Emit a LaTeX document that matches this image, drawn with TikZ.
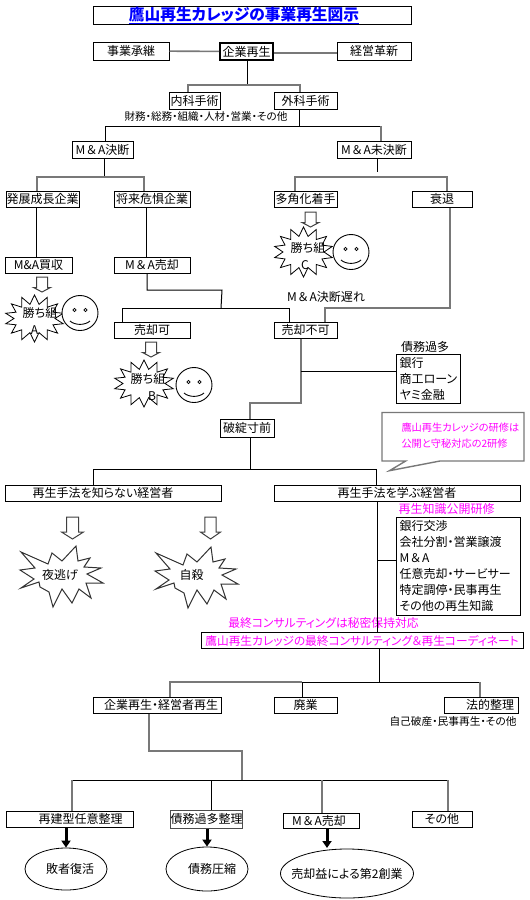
\documentclass[tikz,border=0pt]{standalone}
\usepackage{fontspec}
\setmainfont[RawFeature=+palt]{Noto Sans CJK JP}
\usepackage{tikz}
\usetikzlibrary{arrows.meta,shapes.geometric,shapes.symbols}
\definecolor{linegray}{RGB}{120,120,120}
\definecolor{pinktext}{RGB}{255,0,255}
\definecolor{titleblue}{RGB}{0,0,255}
\newcommand{\fsize}[1]{\fontsize{#1}{#1}\selectfont}
\newcommand{\mnaword}{M\kern1.5pt＆\kern1.5ptA}
\tikzset{
  box/.style={draw, line width=1pt, inner sep=0pt, minimum height=17pt, fill=white},
  listbox/.style={draw, line width=1pt, inner xsep=3pt, inner ysep=0pt, align=left, fill=white},
  oval/.style={draw, ellipse, line width=0.8pt, inner sep=-8pt},
  burst/.style={draw, starburst, starburst points=14, starburst point height=9pt,
    random starburst=0, line width=0.8pt, fill=white, inner sep=0pt},
  bigburst/.style={draw=black!80, line width=1pt, fill=white},
  gline/.style={draw=linegray, line width=1.6pt},
  bline/.style={draw=black, line width=1pt},
  pushline/.style={draw=black, line width=3pt, -{Triangle[length=7pt,width=9pt]}},
  hollowsmall/.pic={
    \draw[draw=black!75, line width=1pt, fill=white] (-5.5,0) -- (5.5,0) -- (5.5,10.5) -- (8.5,10.5) -- (0,15) -- (-8.5,10.5) -- (-5.5,10.5) -- cycle;
  },
  hollowbig/.pic={
    \draw[draw=black!75, line width=1pt, fill=white] (-6,0) -- (6,0) -- (6,15) -- (11,15) -- (0,22) -- (-11,15) -- (-6,15) -- cycle;
  },
  smiley/.pic={
    \draw[line width=0.9pt, fill=white] (0,0) ellipse [x radius=18pt, y radius=17.5pt];
    \draw[line width=0.7pt] (-5.5,-3) circle [radius=1.7pt] (5.5,-3) circle [radius=1.7pt];
    \draw[line width=0.9pt] (-10,8) .. controls (-5,12.5) and (5,12.5) .. (10,8);
  }
}
\begin{document}
\begin{tikzpicture}[x=1pt, y=-1pt, every node/.style={font=\fsize{12}}]
  \useasboundingbox (0,0) rectangle (530,900);
  % top row
  \node[box, minimum width=318pt, font=\fsize{15.7}\bfseries, text=titleblue] (title) at (252,15.5) {\underline{鷹山再生カレッジの事業再生図示}\kern16pt};
  \node[box, minimum width=76pt, minimum height=18pt] (shoukei) at (131,51) {事業承継};
  \node[box, minimum width=53pt, line width=2pt] (saisei) at (246.5,51.5) {企業再生};
  \node[box, minimum width=74pt, minimum height=18pt] (kakushin) at (374,51) {経営革新};
  \draw[gline] (shoukei) -- (saisei);
  \draw[gline] (saisei.east|-0,53) -- (kakushin.west|-0,53);
  % naika geka
  \node[box, minimum width=51pt] (naika) at (194.5,100.5) {内科手術};
  \node[box, minimum width=63pt] (geka) at (305.5,100.5) {外科手術};
  \node[font=\fsize{10.6}] (zaimu) at (206,116) {財務・総務・組織・人材・営業・その他};
  \coordinate (ja) at (247,85);
  \coordinate (jal) at (188,85);
  \coordinate (jar) at (300,85);
  \draw[bline] (saisei.south-|ja) -- (ja);
  \draw[gline] (naika.north-|jal) -- (jal) -- (jar) -- (geka.north-|jar);
  % M&A
  \node[box, minimum width=61pt] (ketsu) at (102.5,149.5) {\mnaword 決断};
  \node[box, minimum width=74pt] (miketsu) at (374,149.5) {\mnaword 未決断};
  \coordinate (jb) at (299,126);
  \coordinate (jbl) at (105,126);
  \coordinate (jbr) at (381,126);
  \draw[bline] (geka.south-|jb) -- (jb);
  \draw[bline] (ketsu.north-|jbl) -- (jbl) -- (jbr);
  \draw[gline] (jbr) -- (miketsu.north-|jbr);
  % companies
  \node[box, minimum width=73pt, minimum height=16pt] (hatten) at (42.5,199) {発展成長企業};
  \node[box, minimum width=76pt, minimum height=16pt] (shorai) at (152,199) {将来危惧企業};
  \node[box, minimum width=63pt, minimum height=16pt] (takaku) at (305.5,199) {多角化着手};
  \node[box, minimum width=60pt, minimum height=16pt] (suitai) at (442,199) {衰退};
  \coordinate (jc) at (104,177);
  \coordinate (jcl) at (37,177);
  \coordinate (jcr) at (144,177);
  \draw[bline] (ketsu.south-|jc) -- (jc);
  \draw[gline] (hatten.north-|jcl) -- (jcl) -- (jcr) -- (shorai.north-|jcr);
  \coordinate (jd) at (377,172);
  \coordinate (jdl) at (295,177);
  \coordinate (jdr) at (447,177);
  \draw[bline] (miketsu.south-|jd) -- (jd);
  \draw[gline] (takaku.north-|jdl) -- (jdl) -- (jdr) -- (suitai.north-|jdr);
  % buy and sell
  \node[box, minimum width=67pt, minimum height=16pt] (kaishu) at (38.5,265) {M\&A買収};
  \node[box, minimum width=76pt, minimum height=16pt] (baikyaku) at (152,265) {\mnaword 売却};
  \coordinate (je) at (36,230);
  \coordinate (jf) at (146,230);
  \draw[bline] (hatten.south-|je) -- (kaishu.north-|je);
  \draw[bline] (shorai.south-|jf) -- (baikyaku.north-|jf);
  % winners
  \pic (arrC) at (310.5,212) {hollowsmall};
  \pic (arrA) at (42,277) {hollowsmall};
  \pic (arrB) at (151,342) {hollowsmall};
  \node[burst, minimum width=59pt, minimum height=50pt] (burstC) at (303.5,252) {};
  \node[burst, minimum width=59pt, minimum height=47pt] (burstA) at (34.5,318.5) {};
  \node[burst, minimum width=60pt, minimum height=47pt] (burstB) at (144,383.5) {};
  \pic (faceC) at (351,252) {smiley};
  \pic (faceA) at (80,313) {smiley};
  \pic (faceB) at (194,385) {smiley};
  \node (winC) at (308,248) {勝ち組};
  \node (letC) at (305,265) {C};
  \node (winA) at (40,313) {勝ち組};
  \node (letA) at (34.5,330) {A};
  \node (winB) at (148,379) {勝ち組};
  \node (letB) at (152,396) {B};
  % sale result
  \node[box, minimum width=76pt, minimum height=16pt] (kaka) at (152,330) {売却可};
  \node[box, minimum width=63pt, minimum height=16pt] (fuka) at (305.5,330) {売却不可};
  \node (okure) at (326,297) {\mnaword 決断遅れ};
  \coordinate (jg) at (147,290);
  \coordinate (jgr) at (222,290);
  \coordinate (jh) at (221,308);
  \coordinate (jhl) at (122,308);
  \coordinate (jhr) at (289,308);
  \coordinate (ji) at (325,308);
  \coordinate (jir) at (450,308);
  \draw[bline] (baikyaku.south-|jg) -- (jg) -- (jgr) -- (jh);
  \draw[bline] (kaka.north-|jhl) -- (jhl) -- (jhr) -- (fuka.north-|jhr);
  \draw[gline] (fuka.north-|ji) -- (ji) -- (jir) -- (suitai.south-|jir);
  % debts
  \node (saimu) at (425,347) {債務過多};
  \node[listbox, minimum width=59pt, minimum height=49pt, font=\fontsize{12}{16}\selectfont] (ginko) at (428.5,378.5) {銀行\\商工ローン\\ヤミ金融};
  \node[box, minimum width=54pt, minimum height=18pt] (hatan) at (247,428) {破綻寸前};
  \coordinate (jj) at (301,403);
  \coordinate (jk) at (301,371);
  \coordinate (jl) at (250,403);
  \draw[gline] (fuka.south-|jj) -- (jj) -- (jl) -- (hatan.north-|jl);
  \draw[bline] (jk) -- (ginko.west|-jk);
  % callout
  \draw[draw=linegray, line width=1.4pt, fill=white] (382,412.5) -- (524,412.5) -- (524,461) -- (440,461) -- (389.5,470.7) -- (405.7,461) -- (382,461) -- cycle;
  \node[font=\fontsize{10.2}{16}\selectfont, text=pinktext, align=left, anchor=west] (kenshu) at (398,436) {鷹山再生カレッジの研修は\\公開と守秘対応の2研修};
  % managers
  \node[box, minimum width=216pt, minimum height=16pt] (shiranai) at (113,493) {再生手法を知らない経営者\kern20pt};
  \node[box, minimum width=246pt, minimum height=16pt] (manabu) at (397,493) {再生手法を学ぶ経営者};
  \coordinate (jm) at (250,469);
  \coordinate (jml) at (93,469);
  \coordinate (jmr) at (376,469);
  \draw[bline] (hatan.south-|jm) -- (jm);
  \draw[bline] (shiranai.north-|jml) -- (jml) -- (jmr) -- (manabu.north-|jmr);
  \pic (arrY) at (72.5,517) {hollowbig};
  \pic[xscale=0.92] (arrJ) at (210.5,517) {hollowbig};
  \draw[bigburst, shift={(21,552)}] (0,0) -- (27,12) -- (31,1) -- (41,9) -- (55,-6) -- (57,9) -- (69,6) -- (63,15) -- (80,16) -- (66,22) -- (82,31) -- (65,31) -- (70,46) -- (58,37) -- (51,51) -- (41,37) -- (32,55) -- (28,40) -- (19,35) -- (18,30) -- (0,36) -- (13,27) -- (-1,18) -- (14,16) -- cycle;
  \draw[bigburst, shift={(156,553)}] (0,0) -- (27,12) -- (31,1) -- (41,9) -- (55,-6) -- (57,9) -- (69,6) -- (63,15) -- (80,16) -- (66,22) -- (82,31) -- (65,31) -- (70,46) -- (58,37) -- (51,51) -- (41,37) -- (32,55) -- (28,40) -- (19,35) -- (18,30) -- (0,36) -- (13,27) -- (-1,18) -- (14,16) -- cycle;
  \node (yonige) at (60,575) {夜逃げ};
  \node (jisatsu) at (191.5,575) {自殺};
  % knowledge
  \node[text=pinktext] (koukai) at (446.5,509) {再生知識公開研修};
  \node[listbox, minimum width=124pt, minimum height=98pt, font=\fontsize{12}{16}\selectfont, text width=118pt] (chishiki) at (458.5,566) {銀行交渉\\会社分割・営業譲渡\\\mnaword\\任意売却・サービサー\\特定調停・民事再生\\その他の再生知識};
  \node[text=pinktext, font=\fsize{11.8}] (himitsu) at (323.5,623) {最終コンサルティングは秘密保持対応};
  \node[box, minimum width=322pt, minimum height=16.5pt, text=pinktext, font=\fsize{11.7}] (coord) at (362,640.7) {鷹山再生カレッジの最終コンサルティング＆再生コーディネート};
  \coordinate (jn) at (377,560);
  \draw[bline] (manabu.south-|jn) -- (coord.north-|jn);
  \draw[bline] (jn) -- (chishiki.west|-jn);
  % results
  \node[box, minimum width=128pt, minimum height=16pt] (keieisha) at (157,705) {\hspace{8pt}企業再生・経営者再生};
  \node[box, minimum width=63pt, minimum height=16pt] (haigyo) at (305.5,705) {廃業};
  \node[box, minimum width=74pt, minimum height=16pt] (houteki) at (481,705) {\hspace{18pt}法的整理};
  \node[font=\fsize{10.7}] (hasan) at (453,721) {自己破産・民事再生・その他};
  \coordinate (jo) at (379,682);
  \coordinate (jol) at (170,682);
  \coordinate (jom) at (302,682);
  \coordinate (jor) at (480,682);
  \draw[bline] (coord.south-|jo) -- (jo);
  \draw[gline] (keieisha.north-|jol) -- (jol) -- (jom);
  \draw[bline] (jom) -- (jor);
  \draw[bline] (jom) -- (haigyo.north-|jom);
  \draw[gline] (jor) -- (houteki.north-|jor);
  % last row
  \node[box, minimum width=127pt, minimum height=16pt] (saiken) at (69.5,819) {\hspace{22pt}再建型任意整理};
  \node[box, minimum width=71pt, minimum height=18pt, draw=black!70] (kajou) at (206.5,819) {債務過多整理};
  \node[box, minimum width=76pt, minimum height=15pt] (mna) at (321,820.5) {\mnaword 売却\kern4pt};
  \node[box, minimum width=60pt, minimum height=16pt] (sonota) at (442,819) {その他};
  \coordinate (jp) at (149,751);
  \coordinate (jq) at (242,751);
  \coordinate (jr) at (242,780);
  \coordinate (jrl) at (72,780);
  \coordinate (jrm) at (211,780);
  \coordinate (jrn) at (322,780);
  \coordinate (jro) at (448,780);
  \draw[gline] (keieisha.south-|jp) -- (jp) -- (jq) -- (jr);
  \draw[bline] (jrl) -- (jro);
  \draw[gline] (saiken.north-|jrl) -- (jrl);
  \draw[bline] (kajou.north-|jrm) -- (jrm);
  \draw[gline] (mna.north-|jrn) -- (jrn);
  \draw[gline] (sonota.north-|jro) -- (jro);
  \node[oval, minimum width=82pt, minimum height=42pt] (haisha) at (66,869) {\hspace{8pt}敗者復活};
  \node[oval, minimum width=82pt, minimum height=44pt] (assyuku) at (207,869) {\hspace{10pt}債務圧縮};
  \node[oval, minimum width=133pt, minimum height=49pt, inner sep=-20pt] (sogyo) at (347,873.5) {売却益による第2創業};
  \coordinate (kc) at (327,848);
  \draw[pushline] (haisha.north|-saiken.south) -- (haisha.north);
  \draw[pushline] (assyuku.north|-kajou.south) -- (assyuku.north);
  \draw[pushline] (mna.south-|kc) -- (kc);
\end{tikzpicture}
\end{document}
